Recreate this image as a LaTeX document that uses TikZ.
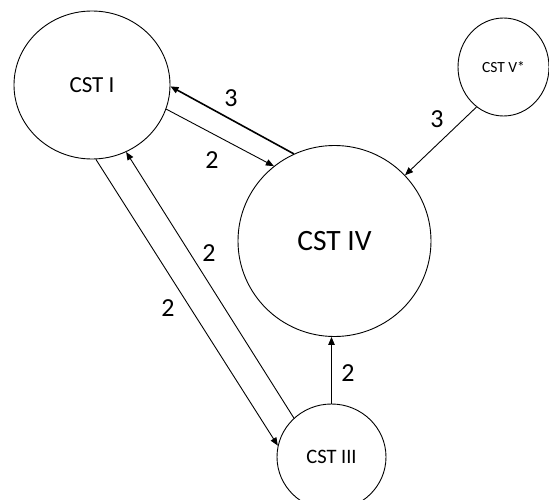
\documentclass[tikz,border=0pt]{standalone}
\usepackage{fontspec}
\setmainfont{Carlito}
\usetikzlibrary{shapes.geometric,arrows.meta}
\tikzset{
  state/.style={draw, ellipse, inner sep=0pt, line width=0.9pt},
  flow/.style={line width=0.9pt, -{Triangle[length=8pt,width=6.5pt]}},
  strongflow/.style={flow, line width=1.6pt},
  weight/.style={font=\fontsize{26}{31}\selectfont, inner sep=0pt}
}
\begin{document}
\begin{tikzpicture}[x=1pt, y=-1pt]
  \useasboundingbox (0,0) rectangle (549,500);
  % states
  \node[state, minimum width=156pt, minimum height=148pt,
        font=\fontsize{23}{28}\selectfont] (one) at (92,85) {CST I};
  \node[state, minimum width=193pt, minimum height=191pt,
        font=\fontsize{29.5}{35}\selectfont] (four) at (334.5,241) {CST IV};
  \node[state, minimum width=91pt, minimum height=98pt,
        font=\fontsize{15.5}{19}\selectfont] (five) at (503.5,67) {CST V*};
  \node[state, minimum width=109pt, minimum height=106pt,
        font=\fontsize{20.5}{25}\selectfont] (three) at (331.5,457) {CST III};
  % transitions
  \draw[strongflow] (four.115.2) -- (one.-1.5);
  \draw[flow] (one.-18.4) -- (four.129.6);
  \draw[flow] (five.-124.5) -- (four.43.5);
  \draw[flow] (one.-87.7) -- (three.168.8);
  \draw[flow] (three.134.6) -- (one.-63.4);
  \draw[flow] (three.north) -- (three.north |- four.south);
  % weights
  \node[weight] (w1) at (231,98) {3};
  \node[weight] (w2) at (212,160) {2};
  \node[weight] (w3) at (437,119) {3};
  \node[weight] (w4) at (209,253) {2};
  \node[weight] (w5) at (168,308) {2};
  \node[weight] (w6) at (348,373) {2};
\end{tikzpicture}
\end{document}
